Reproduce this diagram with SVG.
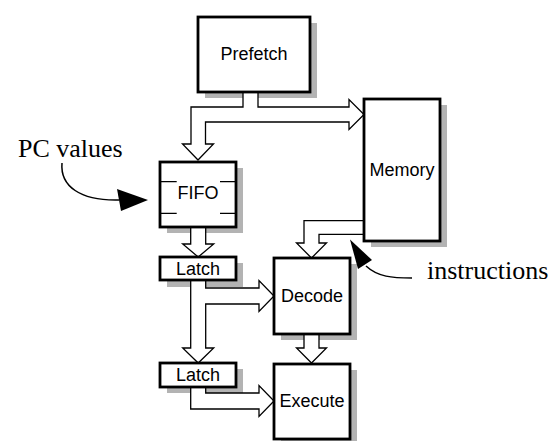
<svg xmlns="http://www.w3.org/2000/svg" width="555" height="441" viewBox="0 0 555 441">
<style>
.shadow{fill:#b3b3b3;stroke:none}
.box{fill:#fff;stroke:#000;stroke-width:2.8}
.pipe{fill:#fff;stroke:#000;stroke-width:1.3;stroke-linejoin:miter}
.thin{fill:none;stroke:#000;stroke-width:1.3}
.lbl{font-family:"Liberation Sans",Arial,sans-serif;font-size:18px;text-anchor:middle;fill:#000}
.note{font-family:"Liberation Serif","Times New Roman",serif;font-size:26px;fill:#000}
.curve{fill:none;stroke:#000;stroke-width:1.5}
</style>
<rect width="555" height="441" fill="#fff"/>
<g id="shadows">
<rect class="shadow" x="205" y="23" width="112" height="75"/>
<rect class="shadow" x="167" y="168" width="76" height="65"/>
<rect class="shadow" x="167" y="263" width="76" height="24"/>
<rect class="shadow" x="167" y="369" width="76" height="24"/>
<rect class="shadow" x="371" y="105" width="76" height="142"/>
<rect class="shadow" x="281" y="264" width="76" height="76"/>
<rect class="shadow" x="281" y="370" width="76" height="75"/>
</g>
<g id="connectors">
<polygon class="pipe" points="243,92 243,107 191,107 191,144 182.5,144 198,160 213.5,144 205.5,144 205.5,122 349,122 349,129.5 364,114.5 349,99.5 349,107 258,107 258,92"/>
<polygon class="pipe" points="190.7,227 190.7,244 182.7,244 198.2,257 213.7,244 205.7,244 205.7,227"/>
<polygon class="pipe" points="190.7,280 190.7,348 182.7,348 198.2,363 213.7,348 205.7,348 205.7,304 259,304 259,311.5 274,296 259,280.5 259,288 205.7,288 205.7,280"/>
<polygon class="pipe" points="190.7,387 190.7,409 259,409 259,416.5 274,401 259,385.5 259,393 205.7,393 205.7,387"/>
<polygon class="pipe" points="304,334 304,348 296.5,348 311.5,363 326.5,348 319,348 319,334"/>
<polygon class="pipe" points="364,220.7 304,220.7 304,243 296.5,243 311.5,258 326.5,243 319,243 319,234.3 364,234.3"/>
<path class="curve" d="M62,163 C60,186 80,201 119,200"/>
<polygon points="117,189 121,211 148,200" fill="#000"/>
<path class="curve" d="M366,266 C378,277 392,278 412,278"/>
<polygon points="350,239.5 358,269 372,260" fill="#000"/>
</g>
<g id="prefetch">
<rect class="box" x="198" y="17" width="112" height="75"/>
<text class="lbl" x="254" y="60">Prefetch</text>
</g>
<g id="fifo">
<rect class="box" x="160" y="162" width="76" height="65"/>
<path class="thin" d="M160,181.7H176.7M220,181.7H236M160,213.3H176.7M220,213.3H236"/>
<text class="lbl" x="198" y="199">FIFO</text>
</g>
<g id="latch1">
<rect class="box" x="160" y="257" width="76" height="23"/>
<text class="lbl" x="198" y="275">Latch</text>
</g>
<g id="latch2">
<rect class="box" x="160" y="363" width="76" height="24"/>
<text class="lbl" x="198" y="381">Latch</text>
</g>
<g id="memory">
<rect class="box" x="364" y="99" width="76" height="142"/>
<text class="lbl" x="402" y="176">Memory</text>
</g>
<g id="decode">
<rect class="box" x="274" y="258" width="76" height="76"/>
<text class="lbl" x="312" y="302">Decode</text>
</g>
<g id="execute">
<rect class="box" x="274" y="364" width="76" height="75"/>
<text class="lbl" x="312" y="407">Execute</text>
</g>
<g id="labels">
<text class="note" x="18" y="157">PC values</text>
<text class="note" x="427" y="279">instructions</text>
</g>
</svg>
